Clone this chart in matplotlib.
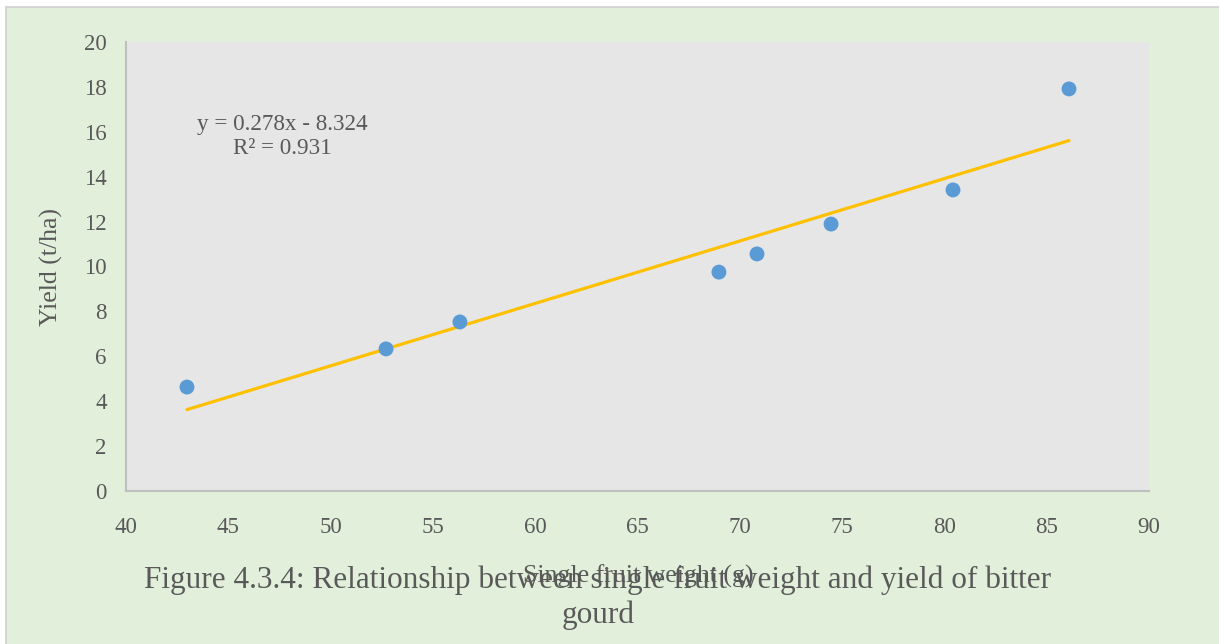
import numpy as np
import matplotlib
matplotlib.use('Agg')
import matplotlib.pyplot as plt
from matplotlib.patches import Rectangle

# single fruit weight (g) vs yield (t/ha)
fruit_weight = [42.98, 52.71, 56.32, 68.98, 70.84, 74.46, 80.42, 86.09]
yield_tha = [4.63, 6.33, 7.53, 9.75, 10.56, 11.89, 13.41, 17.91]

# linear trend reported on the chart
slope = 0.278
intercept = -8.324
r_squared = 0.931

x_ticks = [40, 45, 50, 55, 60, 65, 70, 75, 80, 85, 90]
y_ticks = [0, 2, 4, 6, 8, 10, 12, 14, 16, 18, 20]

text_color = '#595959'
plt.rcParams['font.family'] = ['Liberation Serif', 'DejaVu Serif']

fig = plt.figure(figsize=(12.19, 6.44), dpi=100)
fig.patch.set_facecolor('white')

# light green panel behind the chart
W, H = 1219, 644
fig.patches.append(Rectangle((6 / W, -0.01), 1.02, 1 - 7 / H + 0.01,
                             transform=fig.transFigure, facecolor='#E2EFDA',
                             edgecolor='#D0D0D0', linewidth=1.2, zorder=-10))

ax = fig.add_axes([126 / W, 1 - 491 / H, (1149 - 126) / W, (491 - 42) / H])
ax.set_facecolor('#E6E6E6')

ax.scatter(fruit_weight, yield_tha, s=115, color='#5B9BD5', zorder=3,
           edgecolors='none')

xs = np.array([min(fruit_weight), max(fruit_weight)])
ax.plot(xs, slope * xs + intercept, color='#FFC000', linewidth=2.3,
        solid_capstyle='round', zorder=2)

ax.text(0.1525, 0.79, 'y = %.3fx - %.3f\nR² = %.3f' % (slope, -intercept, r_squared),
        transform=ax.transAxes, ha='center', va='center', fontsize=16.7,
        color=text_color, linespacing=1.22)

ax.set_xlim(40, 90)
ax.set_ylim(0, 20)
ax.set_xticks(x_ticks)
ax.set_yticks(y_ticks)
ax.tick_params(axis='both', length=0, labelsize=16.5, labelcolor=text_color)
ax.tick_params(axis='x', pad=19)
ax.tick_params(axis='y', pad=14)

for side in ['top', 'right']:
    ax.spines[side].set_visible(False)
for side in ['left', 'bottom']:
    ax.spines[side].set_color('#BFBFBF')
    ax.spines[side].set_linewidth(1.5)

ax.set_ylabel('Yield (t/ha)', fontsize=18.5, color=text_color)
ax.yaxis.set_label_coords(-0.0615, 0.499)
fig.text(638 / W, 1 - 576 / H, 'Single fruit weight (g)', ha='center',
         va='center', fontsize=18.6, color=text_color)

fig.text(598 / W, 1 - 598 / H,
         'Figure 4.3.4: Relationship between single fruit weight and yield of bitter\ngourd',
         ha='center', va='center', fontsize=22.5, color=text_color, linespacing=1.25)

fig.savefig('out.png', dpi=100)
